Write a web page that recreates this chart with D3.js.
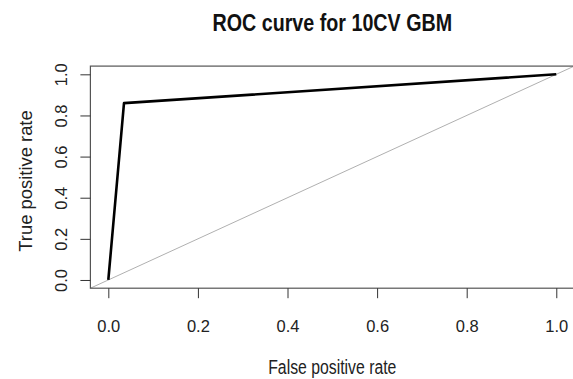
<!DOCTYPE html>
<html>
<head>
<meta charset="utf-8">
<script src="https://cdn.jsdelivr.net/npm/d3@7"></script>
<style>
  body { margin: 0; background: #fff; }
  text { font-family: "Liberation Sans", Arial, sans-serif; fill: #222; }
</style>
</head>
<body>
<svg id="chart"></svg>
<script>
// ROC points
var fpr = [0, 0.035, 1];
var tpr = [0, 0.86, 1];
var xTicks = [0, 0.2, 0.4, 0.6, 0.8, 1.0];
var yTicks = [0, 0.2, 0.4, 0.6, 0.8, 1.0];

var width = 573, height = 379;
// plot box (note: "top" is reserved on window, so use box* names)
var boxLeft = 90.4, boxRight = 574.2, boxTop = 66.1, boxBottom = 288.2;

var svg = d3.select("#chart")
    .attr("width", width)
    .attr("height", height);

// R style: axes extend 4% past the data range
var x = d3.scaleLinear().domain([-0.04, 1.04]).range([boxLeft, boxRight]);
var y = d3.scaleLinear().domain([-0.04, 1.04]).range([boxBottom, boxTop]);

// diagonal reference line across the plot region
svg.append("line")
    .attr("x1", x(-0.04)).attr("y1", y(-0.04))
    .attr("x2", x(1.04)).attr("y2", y(1.04))
    .attr("stroke", "#b0b0b0")
    .attr("stroke-width", 1);

var line = d3.line()
    .x(function(d, i) { return x(fpr[i]); })
    .y(function(d, i) { return y(tpr[i]); });

svg.append("path")
    .datum(fpr)
    .attr("d", line)
    .attr("fill", "none")
    .attr("stroke", "#000")
    .attr("stroke-width", 2.6)
    .attr("stroke-linejoin", "round");

// box
svg.append("rect")
    .attr("x", boxLeft).attr("y", boxTop)
    .attr("width", boxRight - boxLeft).attr("height", boxBottom - boxTop)
    .attr("fill", "none")
    .attr("stroke", "#555")
    .attr("stroke-width", 1.2);

var xAxis = svg.append("g")
    .attr("transform", "translate(0," + boxBottom + ")")
    .call(d3.axisBottom(x).tickValues(xTicks).tickSize(10).tickSizeOuter(0)
      .tickFormat(d3.format(".1f")));
xAxis.select(".domain").remove();
xAxis.selectAll("line").attr("stroke", "#333");
xAxis.selectAll("text")
    .attr("y", 44).attr("dy", null)
    .style("font-size", "16.5px")
    .attr("fill", "#222");

var yAxis = svg.append("g")
    .attr("transform", "translate(" + boxLeft + ",0)")
    .call(d3.axisLeft(y).tickValues(yTicks).tickSize(10).tickSizeOuter(0)
      .tickFormat(d3.format(".1f")));
yAxis.select(".domain").remove();
yAxis.selectAll("line").attr("stroke", "#333");
yAxis.selectAll("text")
    .attr("x", null).attr("dy", null)
    .attr("text-anchor", "middle")
    .attr("transform", "translate(-23,0) rotate(-90)")
    .style("font-size", "16.5px")
    .attr("fill", "#222");

// the reference is a bit stretched vertically, so titles get a y-scale
svg.append("text")
    .attr("transform", "translate(" + (boxLeft + boxRight) / 2 + ",31) scale(1,1.18)")
    .attr("text-anchor", "middle")
    .style("font-size", "19.7px")
    .style("font-weight", "bold")
    .style("fill", "#111")
    .text("ROC curve for 10CV GBM");

svg.append("text")
    .attr("transform", "translate(" + (boxLeft + boxRight) / 2 + ",374) scale(1,1.25)")
    .attr("text-anchor", "middle")
    .style("font-size", "15.8px")
    .text("False positive rate");

svg.append("text")
    .attr("transform", "translate(32,181) rotate(-90) scale(1.15,1.12)")
    .attr("text-anchor", "middle")
    .style("font-size", "16px")
    .text("True positive rate");
</script>
</body>
</html>
